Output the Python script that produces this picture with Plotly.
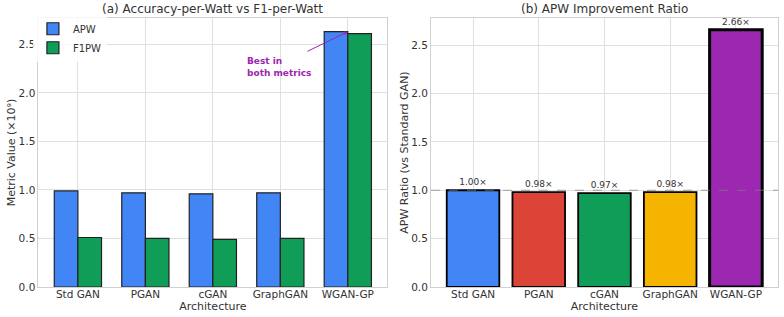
import plotly.graph_objects as go

categories = ["Std GAN", "PGAN", "cGAN", "GraphGAN", "WGAN-GP"]
apw = [0.99, 0.97, 0.96, 0.97, 2.63]
f1pw = [0.51, 0.50, 0.49, 0.50, 2.61]
ratio = [1.00, 0.98, 0.97, 0.98, 2.66]
ratio_labels = ["1.00×", "0.98×", "0.97×", "0.98×", "2.66×"]
ratio_colors = ["#4285F4", "#DB4437", "#0F9D58", "#F4B400", "#9C27B0"]
ratio_linew = [1.8, 1.8, 1.8, 1.8, 3]
yticks = [0.0, 0.5, 1.0, 1.5, 2.0, 2.5]

FONT = "DejaVu Sans"
fig = go.Figure()
xi = list(range(len(categories)))
w = 0.35
fig.add_trace(go.Bar(x=[i - w / 2 for i in xi], y=apw, width=w, name="APW",
                     marker=dict(color="#4285F4", line=dict(color="#222", width=1.2)),
                     xaxis="x", yaxis="y"))
fig.add_trace(go.Bar(x=[i + w / 2 for i in xi], y=f1pw, width=w, name="F1PW",
                     marker=dict(color="#0F9D58", line=dict(color="#222", width=1.2)),
                     xaxis="x", yaxis="y"))
fig.add_trace(go.Bar(x=xi, y=ratio, width=0.8, showlegend=False,
                     marker=dict(color=ratio_colors, line=dict(color="black", width=ratio_linew)),
                     text=ratio_labels, textposition="outside", cliponaxis=False,
                     textfont=dict(size=9, color="#333", family=FONT),
                     xaxis="x2", yaxis="y2"))

axis_common = dict(showgrid=True, gridcolor="#e0e0e0", gridwidth=1, showline=True,
                   mirror=True, linecolor="#d0d0d0", linewidth=1, zeroline=False,
                   ticks="", tickfont=dict(size=10.5, color="#333"), automargin=False)
xaxis_extra = dict(ticklabelstandoff=-3)
fig.update_layout(
    width=784, height=317, margin=dict(l=0, r=0, t=0, b=0),
    paper_bgcolor="white", plot_bgcolor="white",
    font=dict(family=FONT, color="#333"),
    barmode="overlay",
    xaxis=dict(domain=[0.049, 0.494], range=[-0.585, 4.585], tickvals=xi, ticktext=categories,
               title=dict(text="Architecture", font=dict(size=11), standoff=2),
               **xaxis_extra, **axis_common),
    yaxis=dict(domain=[0.0946, 0.943], range=[0, 2.77], tickvals=yticks,
               ticktext=[f"{v:.1f}" for v in yticks],
               title=dict(text="Metric Value (×10⁹)", font=dict(size=11), standoff=0), **axis_common),
    xaxis2=dict(domain=[0.5497, 0.9923], range=[-0.64, 4.64], tickvals=xi, ticktext=categories,
                anchor="y2",
                title=dict(text="Architecture", font=dict(size=11), standoff=2),
                **xaxis_extra, **axis_common),
    yaxis2=dict(domain=[0.0946, 0.943], range=[0, 2.78], tickvals=yticks, anchor="x2",
                ticktext=[f"{v:.1f}" for v in yticks],
                title=dict(text="APW Ratio (vs Standard GAN)", font=dict(size=11), standoff=0), **axis_common),
    legend=dict(x=0.042, y=0.955, xref="paper", yref="paper", xanchor="left", yanchor="top",
                bgcolor="rgba(255,255,255,0.8)", font=dict(size=10), tracegroupgap=0),
    showlegend=True,
)

fig.add_shape(type="line", xref="x2 domain", yref="y2", x0=0, x1=1, y0=1.0, y1=1.0,
              line=dict(color="gray", width=1.2, dash="dash"), opacity=0.7)

fig.add_annotation(x=0.2715, y=1.0, xref="paper", yref="paper", showarrow=False,
                   text="(a) Accuracy-per-Watt vs F1-per-Watt", font=dict(size=12, color="#333"),
                   xanchor="center", yanchor="top")
fig.add_annotation(x=0.771, y=1.0, xref="paper", yref="paper", showarrow=False,
                   text="(b) APW Improvement Ratio", font=dict(size=12, color="#333"),
                   xanchor="center", yanchor="top")
fig.add_annotation(x=categories.index("WGAN-GP"), y=apw[4], xref="x", yref="y",
                   ax=3.38, ay=2.42, axref="x", ayref="y",
                   showarrow=True, arrowhead=2, arrowsize=0.8, arrowwidth=1, arrowcolor="#9C27B0",
                   text="")
fig.add_annotation(x=2.47, y=2.40, xref="x", yref="y", xanchor="left", yanchor="top",
                   align="left", showarrow=False,
                   text="<b>Best in<br>both metrics</b>", font=dict(size=9, color="#9C27B0"))

fig.write_html("out.html")
